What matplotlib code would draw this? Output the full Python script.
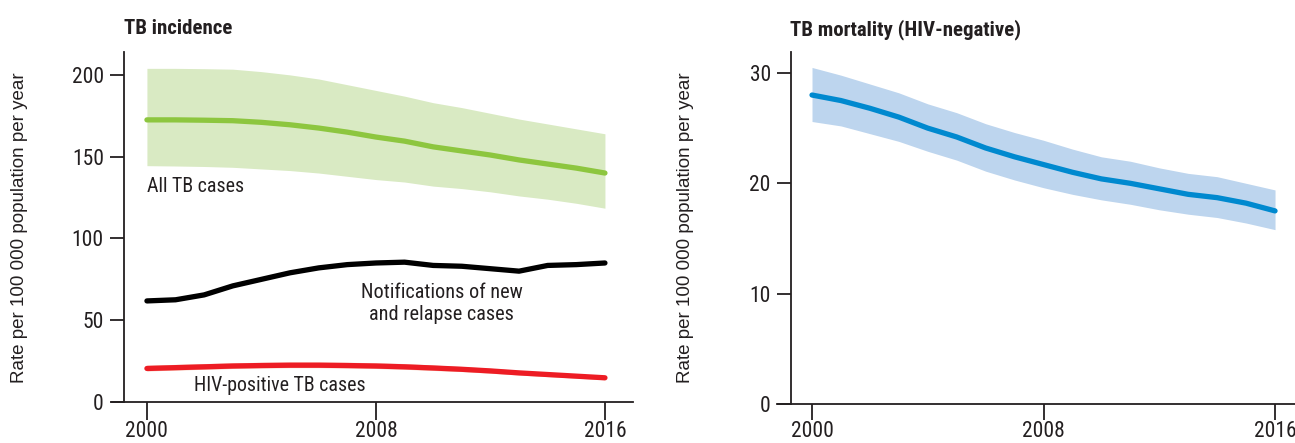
import matplotlib
matplotlib.use("Agg")
import matplotlib.pyplot as plt
import matplotlib.font_manager as fm

years = list(range(2000, 2017))

# TB incidence, rate per 100 000 per year
all_tb = [172.5, 172.5, 172.3, 172.0, 171.0, 169.5, 167.5, 165.0, 162.0,
          159.5, 156.0, 153.5, 151.0, 148.0, 145.5, 143.0, 140.0]
all_tb_hi = [204.0, 204.0, 203.8, 203.5, 202.0, 200.0, 197.5, 194.0, 190.5,
             187.0, 183.0, 180.0, 176.5, 173.0, 170.0, 167.0, 164.0]
all_tb_lo = [144.5, 144.3, 144.0, 143.5, 142.5, 141.5, 140.0, 138.0, 136.0,
             134.5, 132.0, 130.5, 128.5, 126.0, 124.0, 121.5, 118.5]
notif = [61.8, 62.5, 65.5, 71.0, 75.0, 79.0, 82.0, 84.0, 85.0,
         85.5, 83.5, 83.0, 81.5, 80.0, 83.5, 84.0, 85.0]
hiv_pos = [20.5, 21.0, 21.5, 22.0, 22.3, 22.5, 22.5, 22.3, 22.0,
           21.5, 20.8, 20.0, 19.0, 17.8, 16.8, 15.8, 14.8]
hiv_pos_hi = [22.5, 23.0, 23.5, 24.0, 24.3, 24.5, 24.5, 24.3, 24.0,
              23.5, 22.6, 21.7, 20.6, 19.3, 18.2, 17.1, 16.0]
hiv_pos_lo = [19.0, 19.5, 20.0, 20.5, 20.8, 21.0, 21.0, 20.8, 20.5,
              20.0, 19.3, 18.6, 17.6, 16.5, 15.5, 14.6, 13.6]

# TB mortality (HIV-negative)
mort = [28.0, 27.5, 26.8, 26.0, 25.0, 24.2, 23.2, 22.4, 21.7,
        21.0, 20.4, 20.0, 19.5, 19.0, 18.7, 18.2, 17.5]
mort_hi = [30.5, 29.8, 29.0, 28.2, 27.2, 26.4, 25.4, 24.6, 23.9,
           23.1, 22.4, 22.0, 21.4, 20.9, 20.6, 20.0, 19.4]
mort_lo = [25.6, 25.2, 24.5, 23.8, 22.9, 22.1, 21.1, 20.3, 19.6,
           19.0, 18.5, 18.1, 17.6, 17.2, 16.9, 16.4, 15.8]

ylab = "Rate per 100 000 population per year"

# pick a condensed face if the machine has one
installed = {f.name for f in fm.fontManager.ttflist}
dv_cond = any(f.name == "DejaVu Sans" and "ondensed" in f.fname
              for f in fm.fontManager.ttflist)
stretch = "normal"
if "Liberation Sans Narrow" in installed:
    narrow = ["Liberation Sans Narrow", "DejaVu Sans"]
elif "Roboto Condensed" in installed:
    narrow = ["Roboto Condensed", "DejaVu Sans"]
elif dv_cond:
    narrow = ["DejaVu Sans"]
    stretch = "condensed"
else:
    narrow = ["Roboto", "DejaVu Sans"]
regular = ["Liberation Sans", "DejaVu Sans"]
ink = "#231f20"

fig = plt.figure(figsize=(12.95, 4.43), dpi=100)

def style_axes(ax, spine_x, yticks, xlen):
    ax.spines["top"].set_visible(False)
    ax.spines["right"].set_visible(False)
    ax.spines["left"].set_position(("data", spine_x))
    for s in ("left", "bottom"):
        ax.spines[s].set_linewidth(1.3)
        ax.spines[s].set_color(ink)
    ax.set_xticks([2000, 2008, 2016])
    ax.set_yticks(yticks)
    ax.tick_params(axis="x", length=xlen, width=1.3, color=ink, pad=0.5)
    ax.tick_params(axis="y", length=10, width=1.3, color=ink, pad=4.5)
    for lab in ax.get_xticklabels() + ax.get_yticklabels():
        lab.set_family(narrow)
        lab.set_stretch(stretch)
        lab.set_fontsize(15.5)
        lab.set_color(ink)

# left panel
ax1 = fig.add_axes([112 / 1295, 1 - 402 / 443, 521 / 1295, 350 / 443])
ax1.fill_between(years, all_tb_lo, all_tb_hi, color="#d9eac3", lw=0)
ax1.fill_between(years, hiv_pos_lo, hiv_pos_hi, color="#f7c0ad", lw=0)
ax1.plot(years, all_tb, color="#8dc63f", lw=3.8, solid_capstyle="round")
ax1.plot(years, notif, color="black", lw=3.8, solid_capstyle="round")
ax1.plot(years, hiv_pos, color="#ed1c24", lw=3.8, solid_capstyle="round")
ax1.set_xlim(1998.78, 2016.98)
ax1.set_ylim(0, 214)
style_axes(ax1, 1999.2, [0, 50, 100, 150, 200], 13)
ax1.text(2000, 132, "All TB cases", family=narrow, stretch=stretch,
         fontsize=14.3, color=ink, va="center", ha="left")
ax1.text(2010.3, 60.5, "Notifications of new\nand relapse cases",
         family=narrow, stretch=stretch, fontsize=14.6, color=ink,
         va="center", ha="center", linespacing=1.2)
ax1.text(2004.65, 9.8, "HIV-positive TB cases", family=narrow,
         stretch=stretch, fontsize=14.3, color=ink, va="center", ha="center")

# right panel
ax2 = fig.add_axes([777 / 1295, 1 - 404 / 443, 518 / 1295, 352 / 443])
ax2.fill_between(years, mort_lo, mort_hi, color="#bdd5ee", lw=0)
ax2.plot(years, mort, color="#0089cf", lw=3.8, solid_capstyle="round")
ax2.set_xlim(1998.79, 2016.69)
ax2.set_ylim(0, 31.9)
style_axes(ax2, 1999.27, [0, 10, 20, 30], 11.5)

fig.text(20 / 1295, 1 - 228 / 443, ylab, rotation=90, family=regular,
         fontsize=13.5, color=ink, ha="center", va="center")
fig.text(686 / 1295, 1 - 228 / 443, ylab, rotation=90, family=regular,
         fontsize=13.5, color=ink, ha="center", va="center")

fig.text(124 / 1295, 1 - 29 / 443, "TB incidence", family=narrow,
         stretch=stretch, weight="bold", fontsize=15, color=ink,
         va="center")
fig.text(790 / 1295, 1 - 30 / 443, "TB mortality (HIV-negative)",
         family=narrow, stretch=stretch, weight="bold", fontsize=15,
         color=ink, va="center")

fig.savefig("out.png", dpi=100)
